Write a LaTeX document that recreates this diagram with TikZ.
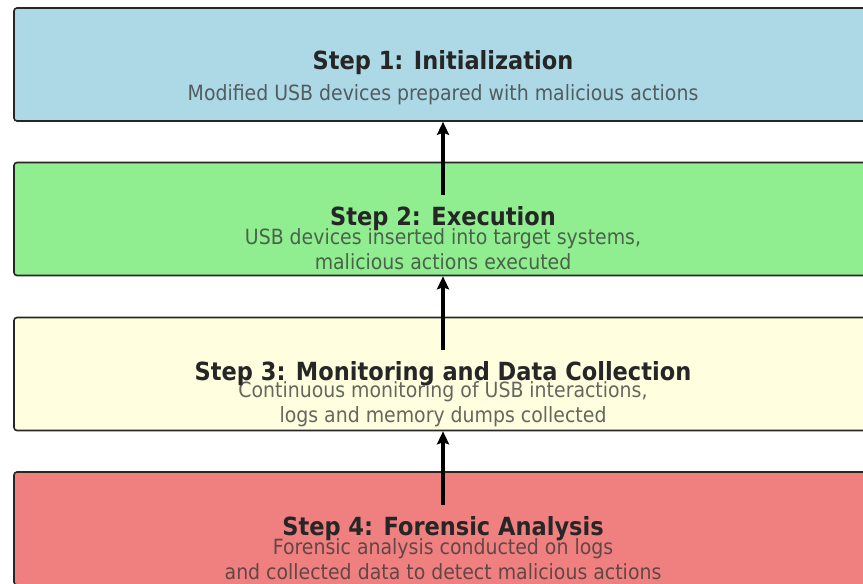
\documentclass[tikz,border=0pt]{standalone}
\usepackage{fontspec}
\setmainfont{DejaVu Sans}[FakeStretch=0.9]
\usetikzlibrary{arrows.meta, positioning}

\definecolor{boxblue}{RGB}{173,216,230}
\definecolor{boxgreen}{RGB}{144,238,144}
\definecolor{boxyellow}{RGB}{255,255,224}
\definecolor{boxred}{RGB}{240,128,128}

\begin{document}
\begin{tikzpicture}[
    x=1pt, y=-1pt,
    >={Stealth[length=13pt, width=12pt, inset=2pt]},
    stepbox/.style = {draw=black!85, line width=1.6pt, rectangle, rounded corners=3pt,
                      minimum width=858pt, minimum height=113pt, inner sep=0pt},
    steptitle/.style = {font=\fontsize{25}{30}\selectfont\bfseries, text=black!85},
    stepdesc/.style = {font=\fontsize{21}{25}\selectfont, align=center,
                       text=black!80, text opacity=0.75},
    flow/.style = {->, line width=3.4pt, black}
]

\clip (0,0) rectangle (863,584);
\useasboundingbox (0,0) rectangle (863,584);

% Boxes
\node[stepbox, fill=boxblue]   (step1) at (443, 64.5) {};
\node[stepbox, fill=boxgreen]  (step2) at (443, 219) {};
\node[stepbox, fill=boxyellow] (step3) at (443, 374) {};
\node[stepbox, fill=boxred]    (step4) at (443, 528.5) {};

% Arrows between steps
\coordinate (from2) at (443, 195);
\coordinate (from3) at (443, 350);
\coordinate (from4) at (443, 505);
\draw[flow] (from2) -- (step1.south);
\draw[flow] (from3) -- (step2.south);
\draw[flow] (from4) -- (step3.south);

% Titles
\node[steptitle] (title1) at ([yshift=2pt]step1.center) {Step 1: Initialization};
\node[steptitle] (title2) at (step2.center) {Step 2: Execution};
\node[steptitle] (title3) at (step3.center) {Step 3: Monitoring and Data Collection};
\node[steptitle] (title4) at (step4.center) {Step 4: Forensic Analysis};

% Descriptions
\node[stepdesc] (desc1) at ([yshift=-30pt]step1.center) {Modified USB devices prepared with malicious actions};
\node[stepdesc] (desc2) at ([yshift=-30.5pt]step2.center) {USB devices inserted into target systems,\\ malicious actions executed};
\node[stepdesc] (desc3) at ([yshift=-30.5pt]step3.center) {Continuous monitoring of USB interactions,\\ logs and memory dumps collected};
\node[stepdesc] (desc4) at ([yshift=-30.5pt]step4.center) {Forensic analysis conducted on logs\\ and collected data to detect malicious actions};

\end{tikzpicture}
\end{document}
